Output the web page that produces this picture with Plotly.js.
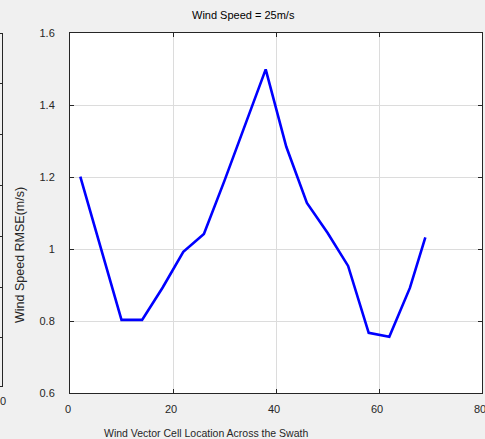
<!DOCTYPE html>
<html>
<head>
<meta charset="utf-8">
<script src="https://cdn.plot.ly/plotly-3.0.1.min.js"></script>
<style>
html,body{margin:0;padding:0;background:#f0f0f0;}
#chart{width:485px;height:439px;}
</style>
</head>
<body>
<div id="chart"></div>
<script>
// Data
const cellLocation = [2, 6, 10, 14, 18, 22, 26, 30, 34, 38, 42, 46, 50, 54, 58, 62, 66, 69];
const rmse = [1.201, 1.005, 0.803, 0.803, 0.893, 0.992, 1.042, 1.19, 1.345, 1.499, 1.284, 1.128, 1.045, 0.953, 0.767, 0.756, 0.892, 1.032];
const xTicks = [0, 20, 40, 60, 80];
const yTicks = [0.6, 0.8, 1, 1.2, 1.4, 1.6];
const yTickText = ['0.6', '0.8', '1', '1.2', '1.4', '1.6'];
const titleText = 'Wind Speed = 25m/s';
const xLabel = 'Wind Vector Cell Location Across the Swath';
const yLabel = 'Wind Speed RMSE(m/s)';

const W = 485, H = 439;
const M = {l: 70, r: 3, t: 33, b: 46};
const pw = W - M.l - M.r, ph = H - M.t - M.b;
const px = v => (v - M.l) / pw;          // pixel -> paper x
const py = v => (H - M.b - v) / ph;      // pixel -> paper y

const axisColor = '#262626';
const font = 'Liberation Sans, Arial, Helvetica, sans-serif';

// neighbouring (cut-off) panel frame on the far left
const leftShapes = [
  {type: 'line', xref: 'paper', yref: 'paper', x0: px(2.5), x1: px(2.5), y0: py(33), y1: py(387), line: {color: axisColor, width: 1}},
  {type: 'line', xref: 'paper', yref: 'paper', x0: px(-1), x1: px(2.5), y0: py(33.5), y1: py(33.5), line: {color: axisColor, width: 1}},
  {type: 'line', xref: 'paper', yref: 'paper', x0: px(-1), x1: px(2.5), y0: py(386.5), y1: py(386.5), line: {color: axisColor, width: 1}}
];
[83.5, 134.5, 185.5, 236.5, 287.5, 337.5].forEach(yy => {
  leftShapes.push({type: 'line', xref: 'paper', yref: 'paper', x0: px(-1), x1: px(2.5), y0: py(yy), y1: py(yy), line: {color: axisColor, width: 1}});
});

const trace = {
  x: cellLocation, y: rmse, type: 'scatter', mode: 'lines',
  line: {color: '#0000ff', width: 2.6},
  hoverinfo: 'skip'
};

const axisCommon = {
  showline: true, linecolor: axisColor, linewidth: 1, mirror: 'ticks',
  ticks: 'inside', ticklen: 4, tickwidth: 1, tickcolor: axisColor,
  showgrid: true, gridcolor: '#dcdcdc', gridwidth: 1,
  zeroline: false, ticklabeloverflow: 'allow',
  tickfont: {family: font, size: 11, color: axisColor}
};

const layout = {
  width: W, height: H,
  margin: M,
  paper_bgcolor: '#f0f0f0', plot_bgcolor: '#ffffff',
  showlegend: false,
  xaxis: Object.assign({}, axisCommon, {
    range: [0, 80], tickvals: xTicks, ticktext: xTicks.map(String),
    ticklabelstandoff: 6, ticklabelshift: -2
  }),
  yaxis: Object.assign({}, axisCommon, {
    range: [0.6, 1.6], tickvals: yTicks, ticktext: yTickText,
    ticklabelstandoff: 12
  }),
  shapes: leftShapes,
  annotations: [
    {text: titleText, xref: 'paper', yref: 'paper', x: px(243), y: py(15), showarrow: false,
     xanchor: 'center', yanchor: 'middle', font: {family: font, size: 11, color: '#000'}},
    {text: xLabel, xref: 'paper', yref: 'paper', x: px(206), y: py(433), showarrow: false,
     xanchor: 'center', yanchor: 'middle', font: {family: font, size: 10.5, color: axisColor}},
    {text: yLabel, xref: 'paper', yref: 'paper', x: px(20), y: py(255), showarrow: false, textangle: -90,
     xanchor: 'center', yanchor: 'middle', font: {family: font, size: 12.5, color: axisColor}},
    {text: '0', xref: 'paper', yref: 'paper', x: px(3), y: py(401), showarrow: false,
     xanchor: 'center', yanchor: 'middle', font: {family: font, size: 11, color: axisColor}}
  ]
};

Plotly.newPlot('chart', [trace], layout, {displayModeBar: false, staticPlot: true});
</script>
</body>
</html>
